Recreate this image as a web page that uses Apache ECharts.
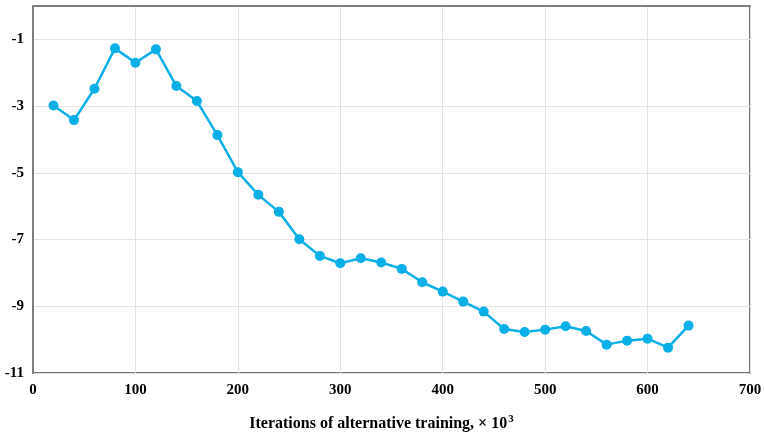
<!DOCTYPE html>
<html>
<head>
<meta charset="utf-8">
<script src="https://cdn.jsdelivr.net/npm/echarts@6/dist/echarts.min.js"></script>
<style>html,body{margin:0;padding:0;background:#fff}#c{width:764px;height:436px}</style>
</head>
<body>
<div id="c"></div>
<script>
const iterations = [20,40,60,80,100,120,140,160,180,200,220,240,260,280,300,320,340,360,380,400,420,440,460,480,500,520,540,560,580,600,620,640];
const values = [-2.98,-3.42,-2.48,-1.27,-1.70,-1.30,-2.40,-2.85,-3.87,-4.98,-5.66,-6.17,-6.99,-7.49,-7.71,-7.56,-7.69,-7.88,-8.28,-8.56,-8.86,-9.16,-9.68,-9.77,-9.70,-9.60,-9.74,-10.15,-10.03,-9.97,-10.24,-9.58];
const xTicks = [0,100,200,300,400,500,600,700];
const yTicks = [-11,-9,-7,-5,-3,-1];
const xTitle = 'Iterations of alternative training, \u00d7 10';
const xTitleSup = '3';

const font = '"Liberation Serif","Times New Roman",serif';
const chart = echarts.init(document.getElementById('c'), null, {renderer:'canvas'});
chart.setOption({
  animation: false,
  backgroundColor: '#fff',
  grid: {left: 33, right: 14, top: 6, bottom: 63, containLabel: false, outerBoundsMode: 'none',
    show: true, borderColor: '#404040', borderWidth: 1.5},
  xAxis: {
    type: 'value', min: xTicks[0], max: xTicks[xTicks.length-1], interval: 100,
    axisLine: {show: true, lineStyle: {color: '#7f7f7f', width: 2}},
    axisTick: {show: false},
    splitLine: {lineStyle: {color: '#e3e3e3', width: 1}},
    axisLabel: {color: '#000', fontFamily: font, fontWeight: 'bold', fontSize: 15, margin: 10},
    name: '{a|' + xTitle + '}{s|' + xTitleSup + '}',
    nameLocation: 'middle', nameGap: 41,
    nameTextStyle: {
      padding: [0, 20, 0, 0],
      rich: {
        a: {fontFamily: font, fontWeight: 'bold', fontSize: 16, color: '#000'},
        s: {fontFamily: font, fontWeight: 'bold', fontSize: 11, color: '#000', verticalAlign: 'top', padding: [0,0,9,1]}
      }
    }
  },
  yAxis: {
    type: 'value', min: -11, max: 0, interval: 2,
    axisLine: {show: true, lineStyle: {color: '#7f7f7f', width: 2}},
    axisTick: {show: false},
    splitLine: {lineStyle: {color: '#e3e3e3', width: 1}},
    axisLabel: {color: '#000', fontFamily: font, fontWeight: 'bold', fontSize: 15, margin: 9,
      formatter: v => yTicks.indexOf(v) >= 0 ? String(v) : ''}
  },
  series: [{
    type: 'line',
    data: iterations.map((x, i) => [x, values[i]]),
    symbol: 'circle', symbolSize: 10,
    lineStyle: {color: '#0AAFE8', width: 2.5},
    itemStyle: {color: '#0AAFE8'}
  }]
});
</script>
</body>
</html>
